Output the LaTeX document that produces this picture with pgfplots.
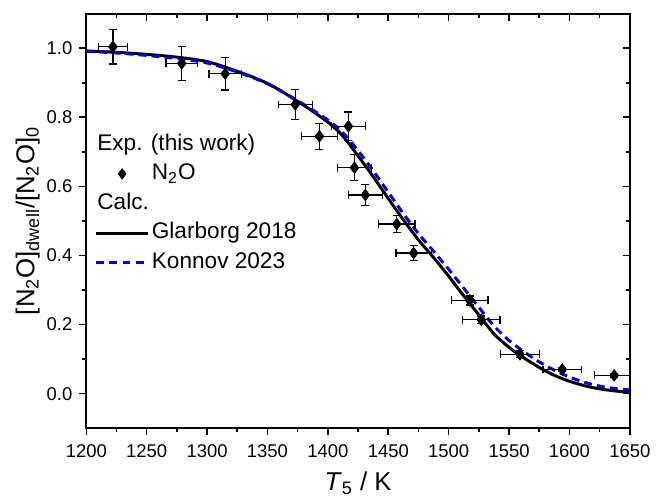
\documentclass[border=0pt]{standalone}
\usepackage{fontspec}
\setmainfont{Liberation Sans}
\usepackage{pgfplots}
\pgfplotsset{compat=1.18}
\definecolor{konblue}{RGB}{0,0,230}

\pgfplotsset{
  lineleg/.style={legend image code/.code={\draw[##1] (0pt,0pt) -- (26pt,0pt);}},
  markleg/.style={legend image code/.code={\draw[##1] plot coordinates {(13pt,0pt)};}},
}

\pgfplotstableread{
T y xe ye
1222 1.004 12 0.050
1279 0.956 13 0.049
1315 0.926 13.5 0.047
1373 0.837 14 0.043
1393 0.745 15 0.038
1417 0.774 14 0.041
1422 0.654 14 0.038
1431 0.575 14 0.030
1457 0.491 15 0.025
1471 0.407 14.5 0.021
1517.5 0.270 15 0.013
1527 0.214 15.5 0.011
1559 0.114 16 0.010
1594 0.070 16 0.006
1637 0.053 16 0.005
}\expdata

\pgfplotstableread{
T y
1200 0.992
1225 0.988
1250 0.982
1275 0.974
1300 0.961
1325 0.933
1350 0.898
1375 0.846
1400 0.786
1412.5 0.745
1425 0.688
1437.5 0.628
1450 0.565
1462.5 0.503
1475 0.445
1487.5 0.394
1500 0.340
1512.5 0.283
1525 0.228
1537.5 0.173
1550 0.134
1562.5 0.103
1575 0.076
1587.5 0.053
1600 0.036
1612.5 0.023
1625 0.014
1637.5 0.008
1650 0.004
}\glarborg

\pgfplotstableread{
T y
1200 0.991
1225 0.986
1250 0.979
1275 0.970
1300 0.957
1325 0.931
1350 0.897
1375 0.848
1400 0.792
1412.5 0.755
1425 0.703
1437.5 0.645
1450 0.583
1462.5 0.521
1475 0.463
1487.5 0.412
1500 0.360
1512.5 0.305
1525 0.250
1537.5 0.196
1550 0.154
1562.5 0.121
1575 0.092
1587.5 0.068
1600 0.048
1612.5 0.033
1625 0.022
1637.5 0.015
1650 0.011
}\konnov

\begin{document}
\begin{tikzpicture}
\pgfplotsset{
  base/.style={
    scale only axis, width=274pt, height=209pt,
    xmin=1200, xmax=1650, ymin=-0.1, ymax=1.1,
    xtick={1200,1250,1300,1350,1400,1450,1500,1550,1600,1650},
    minor x tick num=1,
    ytick={0,0.2,0.4,0.6,0.8,1.0},
    minor y tick num=1,
    axis line style={line width=0.9pt},
    major tick length=3.5pt, minor tick length=2pt,
    every tick/.style={black, line width=0.8pt},
    tick label style={font=\fontsize{9.3}{11}\selectfont},
    /pgf/number format/assume math mode=true,
    xticklabel style={/pgf/number format/1000 sep={}},
    yticklabel style={/pgf/number format/fixed, /pgf/number format/fixed zerofill, /pgf/number format/precision=1},
  }
}
\begin{axis}[base,
  xtick pos=bottom, ytick pos=left, tick align=outside,
  xlabel={\textit{T}\textsubscript{5} / K},
  ylabel={[N\textsubscript{2}O]\textsubscript{dwell}/[N\textsubscript{2}O]\textsubscript{0}},
  label style={font=\fontsize{13}{15}\selectfont},
  xlabel style={at={(axis description cs:0.5,-0.133)}, anchor=center},
  ylabel style={at={(axis description cs:-0.108,0.5)}, anchor=center},
  xticklabel style={yshift=-1pt},
  legend cell align=left,
  legend style={at={(rel axis cs:0.015,0.717)}, anchor=north west, draw=none, fill=none,
    font=\fontsize{11.4}{13}\selectfont, inner sep=0pt, row sep=1.8pt, column sep=0pt,
    nodes={inner sep=1.25pt, text height=8.2pt, text depth=2.4pt}},
]
\addplot[black, line width=1.5pt, smooth, forget plot] table[x=T, y=y] {\glarborg};
\addplot[konblue, line width=1.5pt, dash pattern=on 4pt off 2.6pt, smooth, forget plot] table[x=T, y=y] {\konnov};
\addplot[black, only marks, mark=diamond*, mark size=2.9pt, forget plot,
  error bars/.cd, x dir=both, x explicit, y dir=both, y explicit,
  error bar style={line width=0.65pt, black},
  error mark options={rotate=90, mark size=2pt, line width=0.65pt, black}]
  table[x=T, y=y, x error=xe, y error=ye] {\expdata};

\addlegendimage{empty legend}
\addlegendentry{\hspace*{-27.5pt}Exp. (this work)}
\addlegendimage{black, only marks, mark=diamond*, mark size=2.6pt, markleg}
\addlegendentry{N\textsubscript{2}O}
\addlegendimage{empty legend}
\addlegendentry{\hspace*{-27.5pt}Calc.}
\addlegendimage{black, line width=1.5pt, lineleg}
\addlegendentry{Glarborg 2018}
\addlegendimage{konblue, line width=1.5pt, dash pattern=on 4pt off 2.6pt, lineleg}
\addlegendentry{Konnov 2023}

\coordinate (SW) at (rel axis cs:0,0);
\coordinate (NE) at (rel axis cs:1,1);
\end{axis}
\begin{axis}[base,
  xtick pos=right, ytick pos=right, tick align=inside,
  xticklabels={}, yticklabels={},
  major tick length=3.5pt, minor tick length=2pt]
\end{axis}
\path (SW) ++(-43.5pt,-35pt) coordinate (bbA);
\path (NE) ++(11pt,6.7pt) coordinate (bbB);
\path (bbA) rectangle (bbB);
\end{tikzpicture}
\end{document}
